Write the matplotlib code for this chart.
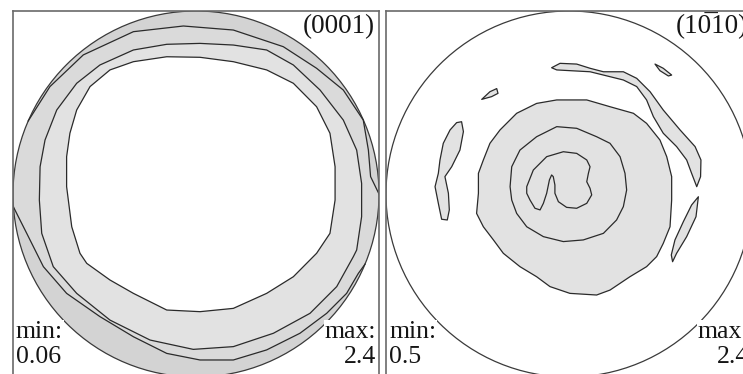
import numpy as np
import matplotlib
matplotlib.use("Agg")
import matplotlib.pyplot as plt
from matplotlib.patches import Circle, Polygon

# ---------------------------------------------------------------------------
# Pole-figure data: contour outlines in projection coordinates (unit circle)
# ---------------------------------------------------------------------------
# matplotlib draws a combining mark at the pen position without moving back,
# so the overline goes in front of the digit it covers.
titles = ["(0001)", "(10\u030510)"]
min_values = ["0.06", "0.5"]
max_values = ["2.4", "2.4"]

# (0001): innermost contour around the low-density centre
basal_inner = np.array([
    (-0.707, 0.040), (-0.679, -0.179), (-0.634, -0.324), (-0.597, -0.379),
    (-0.470, -0.470), (-0.342, -0.543), (-0.160, -0.634), (0.022, -0.643),
    (0.204, -0.625), (0.386, -0.543), (0.532, -0.452), (0.659, -0.324),
    (0.732, -0.215), (0.760, -0.033), (0.760, 0.149), (0.732, 0.332),
    (0.659, 0.477), (0.532, 0.605), (0.386, 0.678), (0.204, 0.723),
    (0.022, 0.747), (-0.160, 0.750), (-0.342, 0.723), (-0.470, 0.678),
    (-0.579, 0.587), (-0.652, 0.459), (-0.689, 0.332), (-0.707, 0.204),
])
# (0001): middle closed contour
basal_middle = np.array([
    (0.022, 0.823), (0.204, 0.814), (0.386, 0.787), (0.532, 0.705),
    (0.678, 0.568), (0.805, 0.404), (0.878, 0.240), (0.905, 0.058),
    (0.905, -0.124), (0.878, -0.306), (0.860, -0.342), (0.769, -0.506),
    (0.623, -0.652), (0.423, -0.761), (0.204, -0.834), (-0.015, -0.849),
    (-0.251, -0.798), (-0.470, -0.689), (-0.652, -0.543), (-0.780, -0.397),
    (-0.843, -0.215), (-0.856, -0.033), (-0.852, 0.149), (-0.825, 0.295),
    (-0.761, 0.459), (-0.652, 0.605), (-0.525, 0.705), (-0.342, 0.787),
    (-0.160, 0.818),
])
# (0001): outer contour, open arcs ending on the projection circle
basal_outer_upper = np.array([
    (-0.917, 0.399), (-0.798, 0.587), (-0.616, 0.760), (-0.342, 0.887),
    (-0.069, 0.918), (0.204, 0.896), (0.477, 0.805), (0.659, 0.687),
    (0.805, 0.568), (0.914, 0.404), (0.942, 0.240), (0.954, 0.095),
    (1.000, 0.000),
])
basal_outer_lower = np.array([
    (-0.998, -0.070), (-0.925, -0.215), (-0.834, -0.397), (-0.707, -0.543),
    (-0.525, -0.670), (-0.342, -0.780), (-0.160, -0.871), (0.022, -0.907),
    (0.204, -0.907), (0.386, -0.852), (0.568, -0.761), (0.714, -0.652),
    (0.823, -0.543), (0.887, -0.434), (0.924, -0.383),
])

# (10-10): central maximum, three nested contours
prism_level1 = np.array([
    (-0.067, 0.514), (0.097, 0.514), (0.224, 0.477), (0.352, 0.441),
    (0.424, 0.386), (0.497, 0.295), (0.534, 0.204), (0.561, 0.095),
    (0.561, -0.033), (0.552, -0.179), (0.515, -0.270), (0.479, -0.342),
    (0.424, -0.397), (0.333, -0.452), (0.224, -0.525), (0.151, -0.552),
    (0.005, -0.543), (-0.104, -0.506), (-0.177, -0.452), (-0.268, -0.397),
    (-0.359, -0.324), (-0.413, -0.251), (-0.468, -0.179), (-0.505, -0.106),
    (-0.495, 0.004), (-0.495, 0.113), (-0.468, 0.186), (-0.432, 0.277),
    (-0.377, 0.350), (-0.286, 0.441), (-0.177, 0.495),
])
prism_level2 = np.array([
    (-0.322, 0.040), (-0.313, 0.149), (-0.268, 0.240), (-0.177, 0.313),
    (-0.067, 0.368), (0.042, 0.359), (0.151, 0.313), (0.224, 0.277),
    (0.279, 0.204), (0.306, 0.113), (0.315, 0.022), (0.297, -0.069),
    (0.260, -0.142), (0.188, -0.215), (0.078, -0.251), (-0.031, -0.260),
    (-0.140, -0.233), (-0.231, -0.179), (-0.286, -0.106), (-0.313, -0.033),
])
prism_level3 = np.array([
    (-0.231, 0.040), (-0.195, 0.131), (-0.122, 0.204), (-0.031, 0.231),
    (0.042, 0.222), (0.097, 0.186), (0.115, 0.149), (0.106, 0.113),
    (0.097, 0.067), (0.115, 0.031), (0.124, -0.005), (0.097, -0.051),
    (0.042, -0.078), (-0.013, -0.073), (-0.058, -0.042), (-0.077, 0.004),
    (-0.077, 0.049), (-0.086, 0.095), (-0.095, 0.104), (-0.107, 0.077),
    (-0.122, 0.004), (-0.140, -0.051), (-0.158, -0.087), (-0.186, -0.078),
    (-0.213, -0.033), (-0.231, 0.004),
])
# (10-10): isolated level-1 islands near the rim
prism_islands = [
    np.array([
        (-0.095, 0.690), (-0.049, 0.714), (0.042, 0.710), (0.115, 0.687),
        (0.188, 0.668), (0.297, 0.668), (0.370, 0.632), (0.443, 0.559),
        (0.515, 0.459), (0.607, 0.350), (0.689, 0.259), (0.721, 0.186),
        (0.719, 0.095), (0.698, 0.040), (0.670, 0.113), (0.643, 0.186),
        (0.588, 0.259), (0.515, 0.332), (0.461, 0.423), (0.424, 0.514),
        (0.370, 0.587), (0.297, 0.623), (0.188, 0.650), (0.115, 0.668),
        (0.005, 0.674), (-0.067, 0.678),
    ]),
    np.array([
        (0.470, 0.710), (0.515, 0.687), (0.561, 0.650), (0.543, 0.645),
        (0.497, 0.674),
    ]),
    np.array([
        (-0.477, 0.517), (-0.432, 0.559), (-0.395, 0.576), (-0.388, 0.550),
        (-0.423, 0.532),
    ]),
    np.array([
        (-0.587, 0.395), (-0.577, 0.341), (-0.596, 0.240), (-0.641, 0.149),
        (-0.678, 0.095), (-0.659, 0.004), (-0.654, -0.087), (-0.665, -0.142),
        (-0.696, -0.138), (-0.714, -0.051), (-0.732, 0.040), (-0.714, 0.113),
        (-0.705, 0.186), (-0.687, 0.277), (-0.650, 0.350), (-0.614, 0.390),
    ]),
    np.array([
        (0.707, -0.015), (0.694, -0.124), (0.643, -0.233), (0.588, -0.324),
        (0.566, -0.370), (0.559, -0.333), (0.579, -0.251), (0.625, -0.151),
        (0.670, -0.060),
    ]),
]

# ---------------------------------------------------------------------------
# Styling
# ---------------------------------------------------------------------------
GREY_HI = "#d3d3d3"
GREY_MID = "#dadada"
GREY_LO = "#e2e2e2"
LINE = "#2a2a2a"
FRAME = "#6a6a6a"
TEXT = "#151515"
SERIF = "Liberation Serif"
LABEL_SIZE = 18.5
TITLE_SIZE = 19.5

W, H, DPI = 743, 374, 100
fig = plt.figure(figsize=(W / DPI, H / DPI), dpi=DPI)
fig.patch.set_facecolor("white")

RADIUS_PX = 183.0
Y_TOP, Y_BOTTOM = 11, 381


def make_panel(x_left, x_right, cx, cy):
    """Axes whose data units are projection radii, centred on the circle."""
    pos = [x_left / W, 1 - Y_BOTTOM / H, (x_right - x_left) / W,
           (Y_BOTTOM - Y_TOP) / H]
    ax = fig.add_axes(pos)
    ax.set_xlim((x_left - cx) / RADIUS_PX, (x_right - cx) / RADIUS_PX)
    ax.set_ylim((cy - Y_BOTTOM) / RADIUS_PX, (cy - Y_TOP) / RADIUS_PX)
    ax.set_xticks([])
    ax.set_yticks([])
    for side in ("left", "right", "top", "bottom"):
        ax.spines[side].set_color(FRAME)
        ax.spines[side].set_linewidth(1.2)
    return ax


def closed(ax, pts, face, lw=0.9):
    ax.add_patch(Polygon(pts, closed=True, facecolor=face, edgecolor=LINE,
                         linewidth=lw, joinstyle="round"))


def rim_band(ax, arc, face, ccw_back):
    """Fill between an open contour arc and the projection circle."""
    a0 = np.arctan2(arc[0, 1], arc[0, 0])
    a1 = np.arctan2(arc[-1, 1], arc[-1, 0])
    if ccw_back:
        while a0 <= a1:
            a0 += 2 * np.pi
    else:
        while a0 >= a1:
            a0 -= 2 * np.pi
    t = np.linspace(a1, a0, 120)
    rim = np.column_stack([np.cos(t), np.sin(t)])
    ax.add_patch(Polygon(np.vstack([arc, rim]), closed=True, facecolor=face,
                         edgecolor="none"))
    ax.plot(arc[:, 0], arc[:, 1], color=LINE, lw=0.9, solid_joinstyle="round")


def y_frac(y_px):
    return (Y_BOTTOM - y_px) / (Y_BOTTOM - Y_TOP)


def labels(ax, title, vmin, vmax, width_px):
    box = dict(facecolor="white", edgecolor="none", pad=0.3)
    x_l = 3 / width_px
    x_r = 1 - 3 / width_px
    common = dict(transform=ax.transAxes, va="baseline", family=SERIF,
                  color=TEXT)
    ax.text(1 - 4 / width_px, y_frac(33), title, ha="right",
            fontsize=TITLE_SIZE, **common)
    ax.text(x_l, y_frac(338), "min:", ha="left", fontsize=LABEL_SIZE,
            bbox=box, **common)
    ax.text(x_l, y_frac(363), vmin, ha="left", fontsize=LABEL_SIZE,
            bbox=box, **common)
    ax.text(x_r, y_frac(338), "max:", ha="right", fontsize=LABEL_SIZE,
            bbox=box, **common)
    ax.text(x_r, y_frac(363), vmax, ha="right", fontsize=LABEL_SIZE,
            bbox=box, **common)


# Left panel: basal (0001) pole figure
ax1 = make_panel(13, 379, 196, 194)
ax1.add_patch(Circle((0, 0), 1.0, facecolor=GREY_MID, edgecolor="none"))
rim_band(ax1, basal_outer_upper, GREY_HI, ccw_back=True)
rim_band(ax1, basal_outer_lower, GREY_HI, ccw_back=False)
closed(ax1, basal_middle, GREY_LO)
closed(ax1, basal_inner, "white")
ax1.add_patch(Circle((0, 0), 1.0, facecolor="none", edgecolor="#3a3a3a",
                     linewidth=0.9))
labels(ax1, titles[0], min_values[0], max_values[0], 366)

# Right panel: prismatic (10-10) pole figure
ax2 = make_panel(386, 752, 569, 194)
ax2.add_patch(Circle((0, 0), 1.0, facecolor="white", edgecolor="#3a3a3a",
                     linewidth=0.9))
for island in prism_islands:
    closed(ax2, island, GREY_LO)
closed(ax2, prism_level1, GREY_LO)
closed(ax2, prism_level2, GREY_LO)
closed(ax2, prism_level3, GREY_LO)
labels(ax2, titles[1], min_values[1], max_values[1], 366)

fig.savefig("out.png", dpi=DPI)
